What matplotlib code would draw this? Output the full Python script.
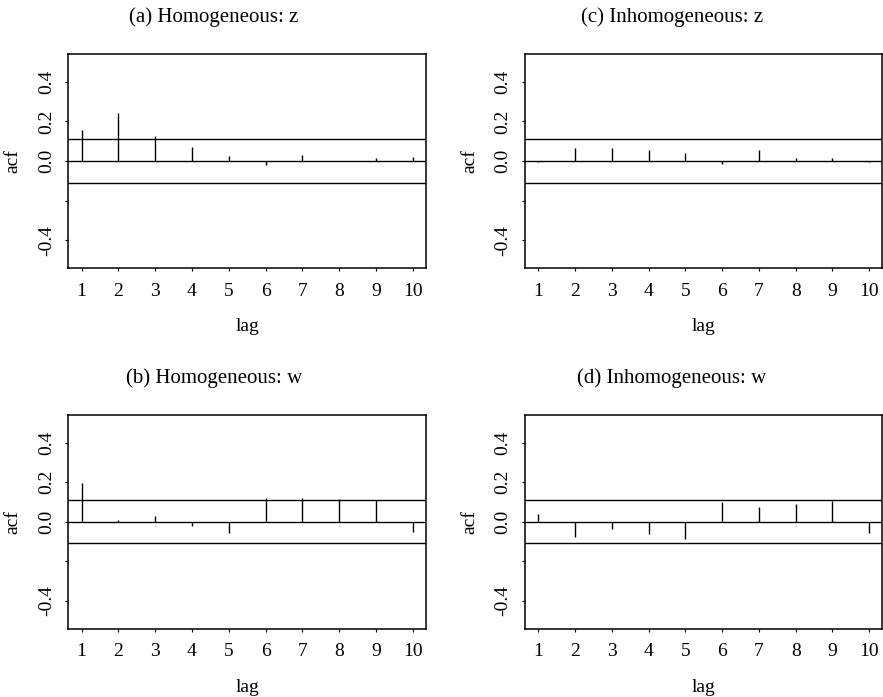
import matplotlib
matplotlib.use("Agg")
import matplotlib.pyplot as plt

plt.rcParams['font.family'] = ['Liberation Serif', 'DejaVu Serif']

lags = [1, 2, 3, 4, 5, 6, 7, 8, 9, 10]
acf_a = [0.154, 0.241, 0.124, 0.071, 0.025, -0.019, 0.029, 0.0, 0.015, 0.022]
acf_b = [0.198, 0.008, 0.029, -0.020, -0.059, 0.120, 0.120, 0.117, 0.110, -0.051]
acf_c = [-0.005, 0.068, 0.064, 0.056, 0.041, -0.015, 0.056, 0.014, 0.014, -0.003]
acf_d = [0.039, -0.076, -0.039, -0.064, -0.088, 0.100, 0.076, 0.092, 0.107, -0.056]
conf = 0.11

titles = ["(a) Homogeneous: z", "(b) Homogeneous: w",
          "(c) Inhomogeneous: z", "(d) Inhomogeneous: w"]
yticks = [-0.4, -0.2, 0.0, 0.2, 0.4]
ytick_labels = ['-0.4', '', '0.0', '0.2', '0.4']

W, H = 883, 697
fig = plt.figure(figsize=(W / 100, H / 100), dpi=100)

# axes boxes in pixels: left, top, right, bottom
boxes = [(68.3, 54, 426, 268), (68.3, 415, 426, 628.5),
         (525, 54, 882.5, 268), (525, 415, 882.5, 628.5)]
title_x = [214, 214, 671.7, 671.7]
series = [acf_a, acf_b, acf_c, acf_d]

for i in range(4):
    l, t, r, b = boxes[i]
    ax = fig.add_axes([l / W, 1 - b / H, (r - l) / W, (b - t) / H])
    ax.vlines(lags, 0, series[i], color='black', lw=1.0)
    ax.axhline(0, color='black', lw=1.0)
    ax.axhline(conf, color='black', lw=1.0)
    ax.axhline(-conf, color='black', lw=1.0)
    ax.set_xlim(0.64, 10.36)
    ax.set_ylim(-0.54, 0.54)
    ax.set_xticks(lags)
    ax.set_xticklabels([str(k) for k in lags])
    ax.set_yticks(yticks)
    ax.set_yticklabels(ytick_labels, rotation=90, va='center')
    ax.tick_params(axis='both', direction='out', length=2.2, width=0.8,
                   labelsize=14)
    ax.tick_params(axis='x', pad=8.5)
    ax.tick_params(axis='y', pad=7.5)
    for sp in ax.spines.values():
        sp.set_linewidth(1.1)
    ax.set_xlabel("lag", fontsize=14)
    ax.set_ylabel("acf", fontsize=14)
    ax.xaxis.set_label_coords(0.5, -0.235)
    ax.yaxis.set_label_coords(-0.13, 0.5)
    fig.text(title_x[i] / W, 1 - (t - 32) / H, titles[i], fontsize=15,
             ha='center', va='baseline')

fig.savefig("out.png", dpi=100)
